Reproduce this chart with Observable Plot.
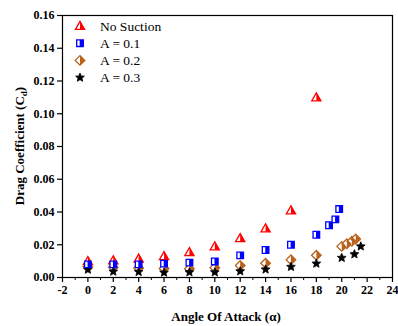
<!DOCTYPE html>
<html>
<head>
<meta charset="utf-8">
<script src="https://cdn.jsdelivr.net/npm/d3@7"></script>
<script src="https://cdn.jsdelivr.net/npm/@observablehq/plot@0.6"></script>
<style>
  html, body { margin: 0; padding: 0; background: #fff; }
</style>
</head>
<body>
<div id="chart"></div>
<script>
// ---- data ----
const seriesNames = ["No Suction", "A = 0.1", "A = 0.2", "A = 0.3"];

const alphaNS = [0, 2, 4, 6, 8, 10, 12, 14, 16, 18];
const cdNS    = [0.0100, 0.0105, 0.0115, 0.0130, 0.0155, 0.0190, 0.0240, 0.0300, 0.0410, 0.1100];

const alphaA1 = [0, 2, 4, 6, 8, 10, 12, 14, 16, 18, 19, 19.5, 19.8];
const cdA1    = [0.0080, 0.0080, 0.0080, 0.0085, 0.0091, 0.0098, 0.0135, 0.0168, 0.0200, 0.0261, 0.0319, 0.0355, 0.0418];

const alphaA2 = [0, 2, 4, 6, 8, 10, 12, 14, 16, 18, 20, 20.4, 20.8, 21.1];
const cdA2    = [0.0066, 0.0062, 0.0058, 0.0055, 0.0053, 0.0060, 0.0073, 0.0087, 0.0108, 0.0136, 0.0190, 0.0206, 0.0221, 0.0235];

const alphaA3 = [0, 2, 4, 6, 8, 10, 12, 14, 16, 18, 20, 21, 21.5];
const cdA3    = [0.0048, 0.0036, 0.0034, 0.0030, 0.0032, 0.0032, 0.0038, 0.0049, 0.0065, 0.0085, 0.0120, 0.0142, 0.0190];

const xMajorTicks = [-2, 0, 2, 4, 6, 8, 10, 12, 14, 16, 18, 20, 22, 24];
const xMinorTicks = [-1, 1, 3, 5, 7, 9, 11, 13, 15, 17, 19, 21, 23];
const yTicks = [0, 0.02, 0.04, 0.06, 0.08, 0.10, 0.12, 0.14, 0.16];

const colors = ["#ff0000", "#0000ff", "#b8621b", "#000000"];
const FONT = "'Liberation Serif', 'Times New Roman', serif";

// ---- custom symbols (full outline + right half) ----
function poly(ctx, pts) {
  ctx.moveTo(pts[0][0], pts[0][1]);
  for (let i = 1; i < pts.length; i++) ctx.lineTo(pts[i][0], pts[i][1]);
  ctx.closePath();
}
const R = s => Math.sqrt(s / Math.PI);
const triFull  = {draw(c, s) { const r = R(s); poly(c, [[0, -r], [r, 0.75 * r], [-r, 0.75 * r]]); }};
const triHalf  = {draw(c, s) { const r = R(s); poly(c, [[0, -r], [r, 0.75 * r], [0, 0.75 * r]]); }};
const sqFull   = {draw(c, s) { const r = R(s); poly(c, [[-r, -r], [r, -r], [r, r], [-r, r]]); }};
const sqHalf   = {draw(c, s) { const r = R(s); poly(c, [[-0.1 * r, -r], [r, -r], [r, r], [-0.1 * r, r]]); }};
const diaFull  = {draw(c, s) { const r = R(s); poly(c, [[0, -r], [r, 0], [0, r], [-r, 0]]); }};
const diaHalf  = {draw(c, s) { const r = R(s); poly(c, [[0, -r], [r, 0], [0, r]]); }};
const starFull = {draw(c, s) {
  const r = R(s), ri = r * 0.45, pts = [];
  for (let i = 0; i < 10; i++) {
    const a = -Math.PI / 2 + i * Math.PI / 5, rr = i % 2 ? ri : r;
    pts.push([rr * Math.cos(a), rr * Math.sin(a)]);
  }
  poly(c, pts);
}};

const mk = (xs, ys) => xs.map((x, i) => ({x, y: ys[i]}));
const dNS = mk(alphaNS, cdNS), dA1 = mk(alphaA1, cdA1), dA2 = mk(alphaA2, cdA2), dA3 = mk(alphaA3, cdA3);

const specs = [
  {full: triFull, half: triHalf, r: 4.6, color: colors[0], fill: "white", sw: 1.3},
  {full: sqFull, half: sqHalf, r: 3.3, color: colors[1], fill: "white", sw: 1.3},
  {full: diaFull, half: diaHalf, r: 4.8, color: colors[2], fill: "white", sw: 1.3},
  {full: starFull, half: null, r: 4.6, color: colors[3], fill: "#000", sw: 0.8}
];

function seriesMarks(data, sp) {
  const m = [Plot.dot(data, {x: "x", y: "y", symbol: sp.full, r: sp.r, fill: sp.fill, stroke: sp.color, strokeWidth: sp.sw})];
  if (sp.half) m.push(Plot.dot(data, {x: "x", y: "y", symbol: sp.half, r: sp.r, fill: sp.color, stroke: "none"}));
  return m;
}

const chart = Plot.plot({
  width: 398,
  height: 326,
  marginLeft: 62,
  marginRight: 6,
  marginTop: 15,
  marginBottom: 49,
  style: {fontFamily: FONT, fontSize: "12px", fontWeight: "bold", color: "black", background: "white", overflow: "visible"},
  x: {domain: [-2, 24], label: null},
  y: {domain: [0, 0.16], label: null},
  marks: [
    Plot.frame({stroke: "black", strokeWidth: 1.2}),
    Plot.axisX({ticks: xMajorTicks, tickSize: 5, tickPadding: 3, tickFormat: d => String(d), label: null, strokeWidth: 1.2}),
    Plot.axisX({ticks: xMinorTicks, tickSize: 3, tickFormat: () => "", label: null, strokeWidth: 1}),
    Plot.axisY({ticks: yTicks, tickSize: 5, tickPadding: 3, tickFormat: d3.format(".2f"), label: null, strokeWidth: 1.2}),
    ...seriesMarks(dNS, specs[0]),
    ...seriesMarks(dA2, specs[2]),
    ...seriesMarks(dA3, specs[3]),
    ...seriesMarks(dA1, specs[1])
  ]
});

const svg = d3.select(chart);
// axis titles
svg.append("text")
  .attr("x", 226).attr("y", 321)
  .attr("text-anchor", "middle")
  .attr("font-family", FONT)
  .attr("font-size", 13).attr("font-weight", "bold").attr("fill", "black")
  .text("Angle Of Attack (α)");
const yl = svg.append("text")
  .attr("transform", "translate(24,146) rotate(-90)")
  .attr("text-anchor", "middle")
  .attr("font-family", FONT)
  .attr("font-size", 13).attr("font-weight", "bold").attr("fill", "black");
yl.append("tspan").text("Drag Coefficient (C");
yl.append("tspan").attr("font-size", 9).attr("dy", 3).text("d");
yl.append("tspan").attr("dy", -3).text(")");

// legend
const lg = svg.append("g");
seriesNames.forEach((name, i) => {
  const sp = specs[i];
  const y = 26 + i * 17.2;
  const g = lg.append("g").attr("transform", `translate(80,${y})`);
  const size = sp.r * sp.r * Math.PI;
  g.append("path").attr("d", d3.symbol(sp.full, size)()).attr("fill", sp.fill).attr("stroke", sp.color).attr("stroke-width", sp.sw);
  if (sp.half) g.append("path").attr("d", d3.symbol(sp.half, size)()).attr("fill", sp.color);
  lg.append("text").attr("x", 100).attr("y", y).attr("dy", "0.35em")
    .attr("text-anchor", "start")
    .attr("font-family", FONT)
    .attr("font-size", 13.5).attr("font-weight", "normal").attr("fill", "black")
    .text(name);
});

document.getElementById("chart").appendChild(chart);
</script>
</body>
</html>
